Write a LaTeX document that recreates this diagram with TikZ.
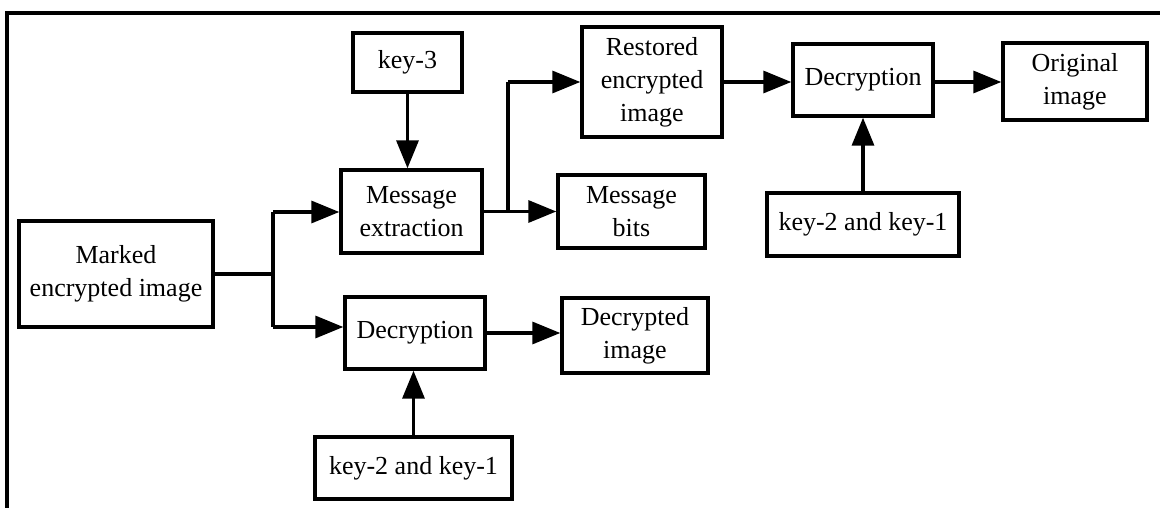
\documentclass[tikz,border=0pt]{standalone}
\usepackage{fontspec}
\setmainfont{Liberation Serif}
\usetikzlibrary{arrows.meta}
\begin{document}
\begin{tikzpicture}[x=1pt,y=-1pt,
  box/.style={draw,line width=3.4pt,inner sep=0pt,align=center,
    font=\fontsize{26}{33}\selectfont},
  conn/.style={line width=3.4pt},
  arr/.style={conn,-{Triangle[length=28pt,width=22pt]}}]
\useasboundingbox (0,0) rectangle (1160,508);
\clip (0,0) rectangle (1160,508);
% outer frame (cut at right and bottom)
\draw[line width=3.6pt] (7,520) -- (7,13) -- (1170,13);
% boxes
\node[box,minimum width=194pt,minimum height=106pt] (marked) at (116,274) {Marked\\encrypted image};
\node[box,minimum width=141pt,minimum height=83pt] (msgext) at (411.5,211.5) {Message\\extraction};
\node[box,minimum width=109pt,minimum height=59pt] (key3) at (407.5,62.5) {key-3};
\node[box,minimum width=140pt,minimum height=110pt] (restored) at (652,82) {Restored\\encrypted\\image};
\node[box,minimum width=147pt,minimum height=73pt] (msgbits) at (631.5,211.5) {Message\\bits};
\node[box,minimum width=140pt,minimum height=72pt] (decA) at (863,80) {Decryption};
\node[box,minimum width=144pt,minimum height=77pt] (orig) at (1075,81.5) {Original\\image};
\node[box,minimum width=192pt,minimum height=63pt] (keysA) at (863,224.5) {key-2 and key-1};
\node[box,minimum width=140pt,minimum height=72pt] (decB) at (415,333) {Decryption};
\node[box,minimum width=146pt,minimum height=75pt] (decimg) at (635,335.5) {Decrypted\\image};
\node[box,minimum width=197pt,minimum height=62pt] (keysB) at (413.5,468) {key-2 and key-1};
% junction coordinates
\coordinate (j) at (273,274);
\coordinate (jt) at (273,212);
\coordinate (jb) at (273,327);
\coordinate (br) at (508,211.5);
\coordinate (bt) at (508,82);
% connectors
\draw[conn] (marked.east |- j) -- (j);
\draw[conn] (jt) -- (jb);
\draw[arr] (jt) -- (jt -| msgext.west);
\draw[arr] (jb) -- (jb -| decB.west);
\draw[arr] (key3.south) -- (key3.south |- msgext.north);
\draw[arr] (msgext.east) -- (msgbits.west);
\draw[conn] (br) -- (bt);
\draw[arr] (bt) -- (bt -| restored.west);
\draw[arr] (restored.east |- bt) -- (bt -| decA.west);
\draw[arr] (decA.east |- bt) -- (bt -| orig.west);
\draw[arr] (keysA.north) -- (decA.south);
\draw[arr] (decB.east) -- (decB.east -| decimg.west);
\draw[arr] (keysB.north) -- (keysB.north |- decB.south);
\end{tikzpicture}
\end{document}
